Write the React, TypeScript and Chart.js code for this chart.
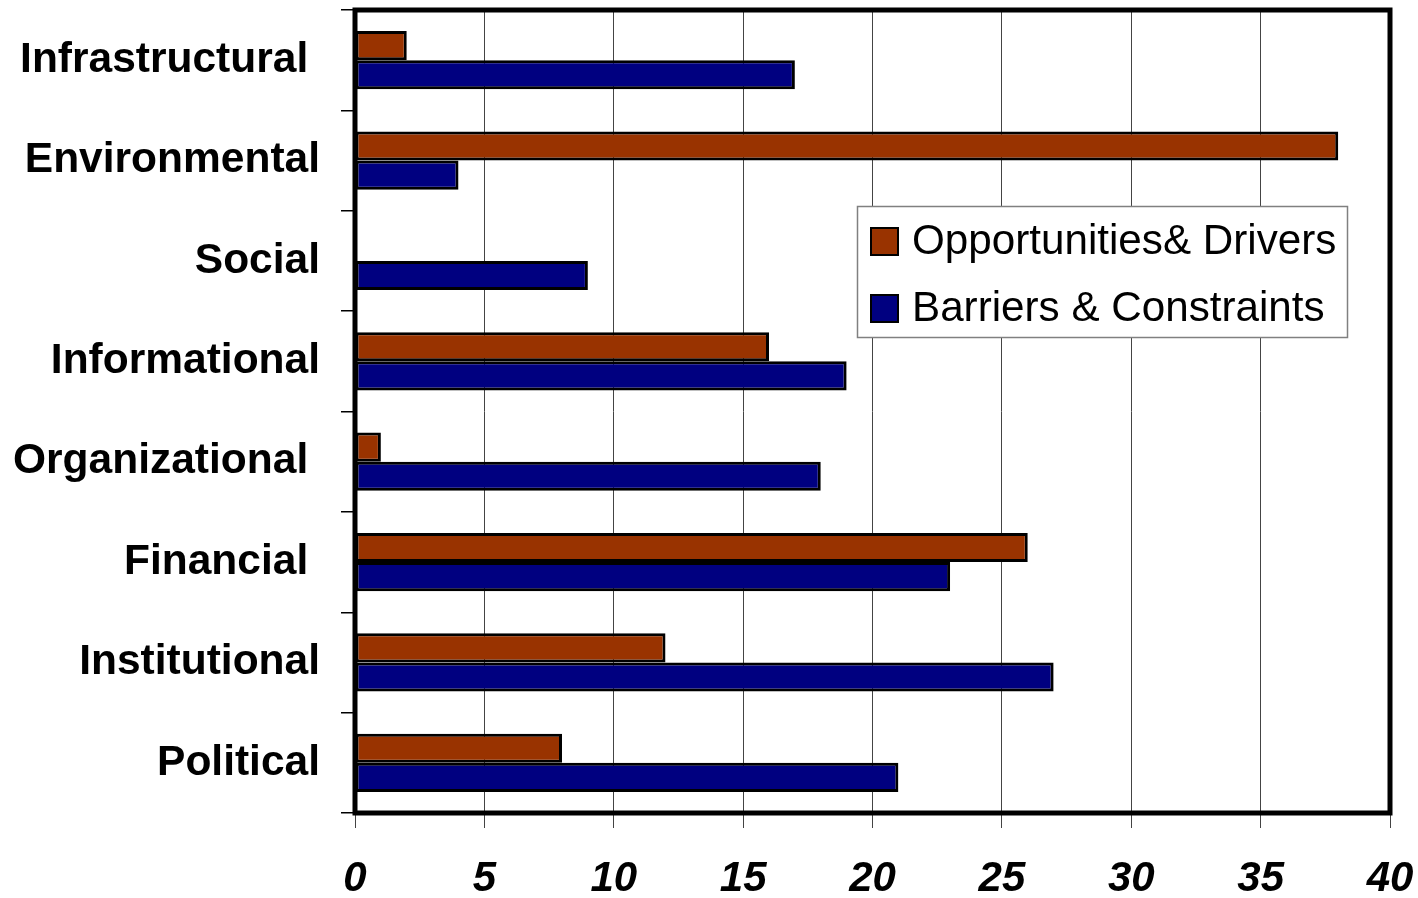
import React, { useEffect, useRef } from "react";
import { Chart, registerables } from "chart.js";

Chart.register(...registerables);

const categories = [
  "Infrastructural ",
  "Environmental",
  "Social",
  "Informational",
  "Organizational ",
  "Financial ",
  "Institutional",
  "Political",
];
const opportunities = [2, 38, 0, 16, 1, 26, 12, 8];
const barriers = [17, 4, 9, 19, 18, 23, 27, 21];
const seriesLabels = ["Opportunities& Drivers", "Barriers & Constraints"];
const seriesColors = ["#993300", "#000080"];
const xMin = 0;
const xMax = 40;
const xStep = 5;

const FONT = "'Liberation Sans', Arial, sans-serif";

const framePlugin = {
  id: "frame",
  afterDatasetsDraw(chart: any) {
    const { ctx, chartArea } = chart;
    ctx.save();
    ctx.strokeStyle = "#000";
    ctx.lineWidth = 5;
    ctx.strokeRect(
      chartArea.left,
      chartArea.top,
      chartArea.right - chartArea.left,
      chartArea.bottom - chartArea.top
    );
    ctx.restore();
  },
};

const legendPlugin = {
  id: "boxLegend",
  afterDraw(chart: any) {
    const { ctx } = chart;
    const x = 857;
    const y = 206;
    const w = 490;
    const h = 131;
    ctx.save();
    ctx.fillStyle = "#fff";
    ctx.fillRect(x, y, w, h);
    ctx.strokeStyle = "#808080";
    ctx.lineWidth = 1.5;
    ctx.strokeRect(x + 0.5, y + 0.5, w, h);
    ctx.font = `42.2px ${FONT}`;
    ctx.textBaseline = "middle";
    ctx.textAlign = "left";
    chart.data.datasets.forEach((ds: any, i: number) => {
      const cy = y + 35 + i * 67;
      ctx.fillStyle = ds.backgroundColor;
      ctx.fillRect(x + 14, cy - 13, 27, 27);
      ctx.strokeStyle = "#000";
      ctx.lineWidth = 2;
      ctx.strokeRect(x + 14, cy - 13, 27, 27);
      ctx.fillStyle = "#000";
      ctx.fillText(ds.label, x + 55, cy + 1);
    });
    ctx.restore();
  },
};

export default function App() {
  const ref = useRef<HTMLCanvasElement>(null);
  useEffect(() => {
    document.body.style.margin = "0";
    const chart = new Chart(ref.current as HTMLCanvasElement, {
      type: "bar",
      data: {
        labels: categories,
        datasets: [
          {
            label: seriesLabels[0],
            data: opportunities,
            backgroundColor: seriesColors[0],
            borderColor: "#000",
            borderWidth: (c: any) => (c.raw === 0 ? 0 : 3),
            borderSkipped: false,
            categoryPercentage: 0.58,
            barPercentage: 1,
          },
          {
            label: seriesLabels[1],
            data: barriers,
            backgroundColor: seriesColors[1],
            borderColor: "#000",
            borderWidth: (c: any) => (c.raw === 0 ? 0 : 3),
            borderSkipped: false,
            categoryPercentage: 0.58,
            barPercentage: 1,
          },
        ],
      },
      options: {
        indexAxis: "y",
        animation: false,
        responsive: false,
        layout: { padding: { top: 10, right: 28, left: 0, bottom: 0 } },
        plugins: {
          legend: { display: false },
          tooltip: { enabled: false },
        },
        scales: {
          x: {
            min: xMin,
            max: xMax,
            ticks: {
              stepSize: xStep,
              color: "#000",
              padding: 26,
              font: { family: FONT, size: 42, weight: "bold", style: "italic" },
            },
            grid: {
              color: "#444",
              lineWidth: 1,
              tickLength: 15,
              drawTicks: true,
            },
            border: { display: false },
            afterFit: (s: any) => {
              s.height = 85;
              s.paddingLeft = 0;
              s.paddingRight = 0;
            },
          },
          y: {
            ticks: {
              color: "#000",
              padding: 21,
              font: { family: FONT, size: 42.5, weight: "bold" },
            },
            grid: {
              drawOnChartArea: false,
              drawTicks: true,
              tickLength: 14,
              color: "#000",
              lineWidth: 1.5,
              offset: true,
            },
            border: { display: false },
            afterFit: (s: any) => {
              s.width = 355;
              s.paddingTop = 0;
              s.paddingBottom = 0;
            },
          },
        },
      },
      plugins: [framePlugin, legendPlugin],
    } as any);
    return () => chart.destroy();
  }, []);
  return (
    <div style={{ width: 1418, height: 898 }}>
      <canvas ref={ref} width={1418} height={898} style={{ display: "block" }} />
    </div>
  );
}
